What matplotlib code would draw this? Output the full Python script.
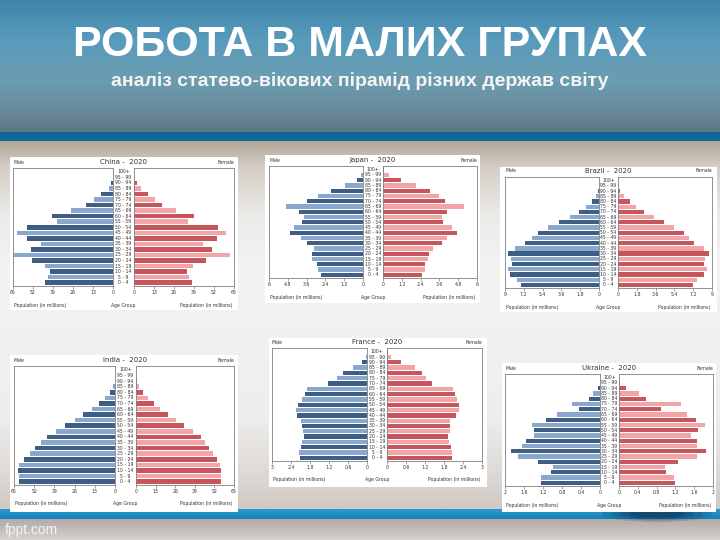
import numpy as np
import matplotlib
matplotlib.use('Agg')
import matplotlib.pyplot as plt
from matplotlib.patches import Rectangle, Ellipse
from matplotlib.colors import LinearSegmentedColormap
import matplotlib.transforms as mtransforms

# ---------------- data ----------------
AGE_GROUPS = ['0 - 4', '5 - 9', '10 - 14', '15 - 19', '20 - 24', '25 - 29', '30 - 34',
              '35 - 39', '40 - 44', '45 - 49', '50 - 54', '55 - 59', '60 - 64', '65 - 69',
              '70 - 74', '75 - 79', '80 - 84', '85 - 89', '90 - 94', '95 - 99', '100+']

CHINA_MALE = [44.0, 42.3, 40.7, 44.4, 52.4, 64.6, 53.1, 46.6, 55.9, 62.4, 55.9, 36.4, 39.4,
              27.5, 17.8, 12.3, 7.6, 2.8, 1.0, 0.15, 0.0]
CHINA_FEMALE = [37.9, 35.8, 34.5, 38.1, 47.0, 62.4, 50.9, 44.6, 54.0, 59.6, 54.8, 34.9, 39.2,
                27.3, 18.4, 13.7, 9.3, 4.3, 1.7, 0.3, 0.02]
CHINA_TICKS = [0, 13, 26, 39, 52, 65]

JAPAN_MALE = [2.66, 2.87, 2.96, 3.23, 3.23, 3.15, 3.6, 3.94, 4.64, 4.4, 3.89, 3.79, 4.1,
              4.94, 3.55, 2.87, 2.06, 1.15, 0.4, 0.1, 0.01]
JAPAN_FEMALE = [2.51, 2.7, 2.7, 2.85, 2.94, 3.19, 3.74, 4.09, 4.74, 4.43, 3.85, 3.74, 4.1,
                5.15, 3.96, 3.55, 3.02, 2.13, 1.13, 0.36, 0.05]
JAPAN_TICKS = [0, 1.2, 2.4, 3.6, 4.8, 6]

BRAZIL_MALE = [7.44, 7.85, 8.52, 8.68, 8.36, 8.46, 8.68, 8.04, 7.1, 6.45, 5.8, 4.85, 3.8,
               2.8, 1.9, 1.28, 0.7, 0.29, 0.1, 0.03, 0.0]
BRAZIL_FEMALE = [7.2, 7.59, 8.26, 8.52, 8.2, 8.36, 8.71, 8.2, 7.3, 6.75, 6.3, 5.34, 4.37,
                 3.41, 2.48, 1.77, 1.16, 0.55, 0.19, 0.06, 0.02]
BRAZIL_TICKS = [0, 1.8, 3.6, 5.4, 7.2, 9]

INDIA_MALE = [62.0, 62.0, 62.2, 61.8, 58.8, 54.7, 51.2, 47.4, 43.5, 38.1, 31.9, 26.0, 20.7,
              15.0, 10.5, 6.5, 3.0, 1.3, 0.2, 0.1, 0.0]
INDIA_FEMALE = [56.7, 56.2, 56.2, 55.6, 53.8, 50.9, 48.5, 45.7, 42.8, 38.0, 32.0, 26.6, 21.3,
                16.2, 12.1, 7.9, 4.4, 2.0, 0.4, 0.2, 0.0]
INDIA_TICKS = [0, 13, 26, 39, 52, 65]

FRANCE_MALE = [2.12, 2.15, 2.09, 2.04, 1.99, 2.03, 2.05, 2.07, 2.21, 2.25, 2.17, 2.05, 1.95,
               1.88, 1.24, 0.95, 0.75, 0.45, 0.16, 0.02, 0.0]
FRANCE_FEMALE = [2.04, 2.06, 2.01, 1.97, 1.92, 1.98, 2.0, 2.0, 2.17, 2.27, 2.27, 2.2, 2.14,
                 2.07, 1.43, 1.22, 1.12, 0.87, 0.45, 0.12, 0.02]
FRANCE_TICKS = [0, 0.6, 1.2, 1.8, 2.4, 3]

UKRAINE_MALE = [1.25, 1.24, 1.03, 1.0, 1.31, 1.72, 1.88, 1.64, 1.56, 1.38, 1.4, 1.43, 1.14,
                0.9, 0.45, 0.6, 0.23, 0.15, 0.05, 0.01, 0.0]
UKRAINE_FEMALE = [1.19, 1.18, 0.99, 0.97, 1.26, 1.67, 1.86, 1.67, 1.65, 1.54, 1.68, 1.84, 1.63,
                  1.44, 0.89, 1.31, 0.58, 0.42, 0.15, 0.02, 0.01]
UKRAINE_TICKS = [0, 0.4, 0.8, 1.2, 1.6, 2]

TITLE = 'РОБОТА В МАЛИХ ГРУПАХ'
SUBTITLE = 'аналіз статево-вікових пірамід різних держав світу'
YEAR = '2020'

# ---------------- layout (pixels) ----------------
W, H = 720, 540
# name, male, female, ticks, panel box, left axes x, right axes x, axes y (top,bottom)
PANELS = [
    ('China', CHINA_MALE, CHINA_FEMALE, CHINA_TICKS, (10, 157, 238, 310), (13, 113), (134, 234), (168, 286)),
    ('Japan', JAPAN_MALE, JAPAN_FEMALE, JAPAN_TICKS, (265, 155, 480, 303), (269, 363), (383, 477), (166, 278)),
    ('Brazil', BRAZIL_MALE, BRAZIL_FEMALE, BRAZIL_TICKS, (500, 167, 717, 312), (505, 599), (618, 712), (177, 288)),
    ('India', INDIA_MALE, INDIA_FEMALE, INDIA_TICKS, (10, 355, 238, 512), (14, 115), (136, 234), (366, 485)),
    ('France', FRANCE_MALE, FRANCE_FEMALE, FRANCE_TICKS, (269, 338, 487, 487), (272, 367), (387, 482), (348, 461)),
    ('Ukraine', UKRAINE_MALE, UKRAINE_FEMALE, UKRAINE_TICKS, (502, 363, 716, 512), (505, 600), (619, 713), (374, 486)),
]

M_DARK, M_LIGHT = '#3f5e86', '#8aa8cd'
F_DARK, F_LIGHT = '#c6565c', '#f1a5a9'
TXT = '#333333'
SPINE = '#808080'
SMALL = 3.3

fig = plt.figure(figsize=(7.2, 5.4), dpi=100)
bg = fig.add_axes([0, 0, 1, 1])
bg.set_xlim(0, W)
bg.set_ylim(H, 0)
bg.axis('off')


def grad(y0, y1, stops):
    pos = [s[0] for s in stops]
    cols = [s[1] for s in stops]
    cmap = LinearSegmentedColormap.from_list('g', list(zip(pos, cols)))
    arr = np.linspace(0, 1, 256).reshape(-1, 1)
    bg.imshow(arr, cmap=cmap, aspect='auto', extent=(0, W, y1, y0), zorder=0,
              interpolation='bilinear')


grad(0, 132, [(0, '#3f84a9'), (0.3, '#589bbc'), (0.6, '#6b9db2'), (0.85, '#6a8a98'), (1, '#5e7784')])
grad(132, 141, [(0, '#0f6596'), (1, '#136c9e')])
grad(141, 509, [(0, '#b3a797'), (0.07, '#d5cec6'), (0.2, '#ecebe9'), (0.35, '#f3f3f2'),
                (0.75, '#efeeed'), (0.92, '#dcd7d3'), (1, '#cfc8c3')])
grad(509, 519, [(0, '#2a9ad0'), (1, '#1683b8')])
grad(519, 540, [(0, '#b3aaa9'), (1, '#d6d0cf')])
bg.set_xlim(0, W)
bg.set_ylim(H, 0)

# shadow blob near bottom stripe
for i, a in enumerate([0.15, 0.2, 0.25, 0.35]):
    bg.add_patch(Ellipse((657, 514), 110 - 18 * i, 16 - 3 * i, color='#0b2a4d', alpha=a,
                         lw=0, zorder=1))

bg.text(360, 45, TITLE, ha='center', va='center', color='white', fontsize=31,
        fontweight='bold', family='Liberation Sans', zorder=3)
bg.text(360, 81, SUBTITLE, ha='center', va='center', color='#f5f5f5', fontsize=14,
        fontweight='bold', family='Liberation Sans', zorder=3)
bg.text(5, 530, 'fppt.com', ha='left', va='center', color='#f4f4f4', fontsize=10,
        family='Liberation Sans', zorder=3)


def fig_rect(x0, x1, y0, y1):
    return [x0 / W, 1 - y1 / H, (x1 - x0) / W, (y1 - y0) / H]


ypos = np.arange(len(AGE_GROUPS))
for name, male, female, ticks, box, lx, rx, ay in PANELS:
    px0, py0, px1, py1 = box
    bg.add_patch(Rectangle((px0, py0), px1 - px0, py1 - py0, facecolor='white',
                           edgecolor='none', zorder=2))
    cx = (lx[1] + rx[0]) / 2
    ty = ay[0] - 6
    bg.text(cx, ty, f'{name} -  {YEAR}', ha='center', va='center', fontsize=5, color=TXT, zorder=3)
    bg.text(lx[0], ty, 'Male', ha='left', va='center', fontsize=SMALL, color=TXT, zorder=3)
    bg.text(rx[1], ty, 'Female', ha='right', va='center', fontsize=SMALL, color=TXT, zorder=3)
    ly = ay[1] + 19
    bg.text(lx[0] + 1, ly, 'Population (in millions)', ha='left', va='center', fontsize=SMALL,
            color=TXT, zorder=3)
    bg.text(cx, ly, 'Age Group', ha='center', va='center', fontsize=SMALL, color=TXT, zorder=3)
    bg.text(rx[1] - 2, ly, 'Population (in millions)', ha='right', va='center', fontsize=SMALL,
            color=TXT, zorder=3)

    axl = fig.add_axes(fig_rect(lx[0], lx[1], ay[0], ay[1]))
    axr = fig.add_axes(fig_rect(rx[0], rx[1], ay[0], ay[1]))
    mcol = [M_DARK if i % 2 == 0 else M_LIGHT for i in ypos]
    fcol = [F_DARK if i % 2 == 0 else F_LIGHT for i in ypos]
    axl.barh(ypos, male, height=0.82, color=mcol, zorder=2)
    axr.barh(ypos, female, height=0.82, color=fcol, zorder=2)
    axl.set_xlim(ticks[-1], 0)
    axr.set_xlim(0, ticks[-1])
    for ax in (axl, axr):
        ax.set_ylim(-0.6, 20.7)
        ax.set_yticks([])
        ax.set_xticks(ticks)
        ax.set_xticklabels([f'{t:g}' for t in ticks])
        ax.tick_params(axis='x', length=2.2, width=0.5, pad=0.8, labelsize=SMALL,
                       colors=SPINE, labelcolor=TXT)
        for sp in ax.spines.values():
            sp.set_color(SPINE)
            sp.set_linewidth(0.6)
        ax.set_facecolor('white')
    trans = mtransforms.blended_transform_factory(bg.transData, axl.transData)
    for i, lab in enumerate(AGE_GROUPS):
        bg.text(cx, i, lab, transform=trans, ha='center', va='center', fontsize=SMALL,
                color=TXT, zorder=3)

fig.savefig('out.png', dpi=100)
